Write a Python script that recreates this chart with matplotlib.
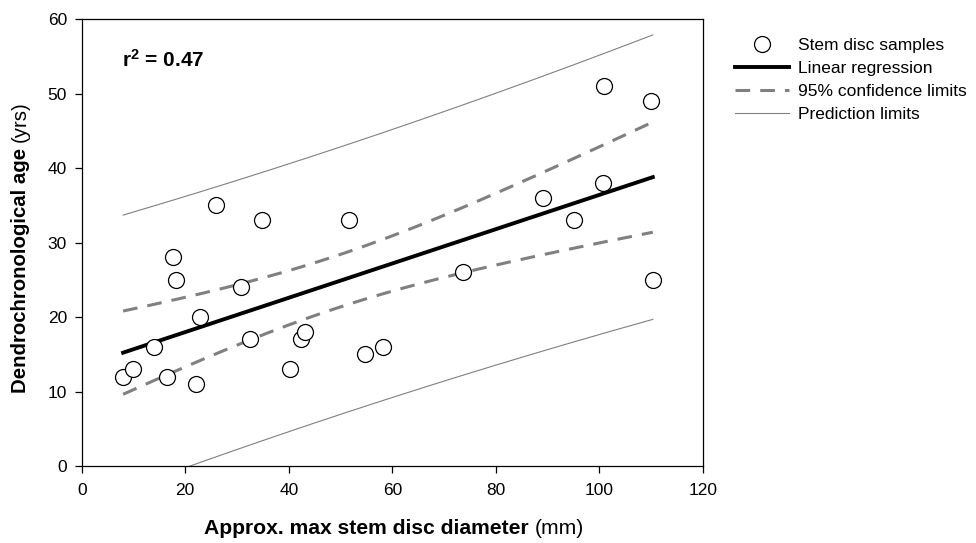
import numpy as np
import matplotlib
matplotlib.use("Agg")
import matplotlib.pyplot as plt
from matplotlib.lines import Line2D

plt.rcParams["font.family"] = ["Liberation Sans", "DejaVu Sans"]
plt.rcParams["mathtext.fontset"] = "custom"
plt.rcParams["mathtext.rm"] = "Liberation Sans"
plt.rcParams["mathtext.bf"] = "Liberation Sans:bold"
plt.rcParams["mathtext.it"] = "Liberation Sans:italic"

# Stem disc samples: approx. max diameter (mm) and dendrochronological age (yrs)
diameter_mm = [8.0, 10.0, 14.0, 16.4, 17.7, 18.3, 22.1, 22.8, 26.0, 30.8,
               32.6, 34.8, 40.3, 42.3, 43.1, 51.7, 54.8, 58.2, 73.7, 89.1,
               95.0, 100.6, 100.8, 110.0, 110.3]
age_yrs = [12, 13, 16, 12, 28, 25, 11, 20, 35, 24,
           17, 33, 13, 17, 18, 33, 15, 16, 26, 36,
           33, 38, 51, 49, 25]

x_ticks = [0, 20, 40, 60, 80, 100, 120]
y_ticks = [0, 10, 20, 30, 40, 50, 60]
legend_labels = ["Stem disc samples", "Linear regression",
                 "95% confidence limits", "Prediction limits"]
x_title = ("Approx. max stem disc diameter", "(mm)")
y_title = ("Dendrochronological age", "(yrs)")
T_CRIT = 2.069  # two-sided 95% Student t, 23 degrees of freedom

x = np.asarray(diameter_mm)
y = np.asarray(age_yrs, dtype=float)
n = len(x)

# Ordinary least squares fit with confidence and prediction bands
xm, ym = x.mean(), y.mean()
sxx = np.sum((x - xm) ** 2)
sxy = np.sum((x - xm) * (y - ym))
syy = np.sum((y - ym) ** 2)
slope = sxy / sxx
intercept = ym - slope * xm
r2 = sxy ** 2 / (sxx * syy)
s = np.sqrt((syy - sxy ** 2 / sxx) / (n - 2))

xf = np.linspace(x.min(), x.max(), 300)
yf = intercept + slope * xf
ci = T_CRIT * s * np.sqrt(1.0 / n + (xf - xm) ** 2 / sxx)
pi = T_CRIT * s * np.sqrt(1.0 + 1.0 / n + (xf - xm) ** 2 / sxx)

W, H = 976, 543
fig = plt.figure(figsize=(W / 100, H / 100), dpi=100)
ax_rect = [0.0837, 0.1418, 0.6366, 0.8232]
ax = fig.add_axes(ax_rect)

grey = "#808080"
dash = (4.8, 3.3)
ax.plot(xf, yf + pi, color=grey, lw=0.8, zorder=2)
ax.plot(xf, yf - pi, color=grey, lw=0.8, zorder=2)
ax.plot(xf, yf + ci, color=grey, lw=2.2, dashes=dash, zorder=2)
ax.plot(xf, yf - ci, color=grey, lw=2.2, dashes=dash, zorder=2)
ax.plot(xf, yf, color="black", lw=2.8, zorder=3)
ax.plot(x, y, "o", ms=11.5, mfc="white", mec="black", mew=0.9, zorder=4)

ax.set_xlim(0, 120)
ax.set_ylim(0, 60)
ax.set_xticks(x_ticks)
ax.set_yticks(y_ticks)
ax.tick_params(direction="out", length=5, width=0.9, labelsize=12.5,
               top=False, right=False, colors="black")
ax.tick_params(axis="x", pad=7.5)
ax.tick_params(axis="y", pad=5.5)
for sp in ax.spines.values():
    sp.set_linewidth(0.9)

# Axis titles: bold name followed by the unit in regular weight
renderer = fig.canvas.get_renderer()

fsx = 15.2
gapx = 0.28 * fsx * 100 / 72
xb = fig.text(0, 0, x_title[0], fontsize=fsx, fontweight="bold",
              ha="left", va="baseline")
xr = fig.text(0, 0, x_title[1], fontsize=fsx, ha="left", va="baseline")
wb = xb.get_window_extent(renderer).width
wr = xr.get_window_extent(renderer).width
cx = 394
x0 = cx - (wb + gapx + wr) / 2
base = H - 534
xb.set_position((x0 / W, base / H))
xr.set_position(((x0 + wb + gapx) / W, base / H))

fsy = 14.7
gapy = 0.28 * fsy * 100 / 72
yb = fig.text(0, 0, y_title[0], fontsize=fsy, fontweight="bold",
              rotation=90, rotation_mode="anchor", ha="left", va="baseline")
yr = fig.text(0, 0, y_title[1], fontsize=fsy, rotation=90,
              rotation_mode="anchor", ha="left", va="baseline")
hb = yb.get_window_extent(renderer).height
hr = yr.get_window_extent(renderer).height
cy = H - 247
y0 = cy - (hb + gapy + hr) / 2
lx = 25.5
yb.set_position((lx / W, y0 / H))
yr.set_position((lx / W, (y0 + hb + gapy) / H))

ax.text(0.065, 0.908, r"$\bf{r^2}$ = %.2f" % r2, transform=ax.transAxes,
        fontsize=15, fontweight="bold", va="center", ha="left")

handles = [
    Line2D([], [], ls="none", marker="o", ms=11.5, mfc="white",
           mec="black", mew=0.9),
    Line2D([], [], color="black", lw=2.8),
    Line2D([], [], color=grey, lw=2.2, dashes=dash),
    Line2D([], [], color=grey, lw=0.8),
]
fig.legend(handles, legend_labels, loc="upper left",
           bbox_to_anchor=(735 / W, 1 - 38 / H), frameon=False,
           fontsize=12.5, handlelength=3.1, handletextpad=0.55,
           labelspacing=0.45, borderpad=0, borderaxespad=0)

fig.savefig("out.png", dpi=100)
